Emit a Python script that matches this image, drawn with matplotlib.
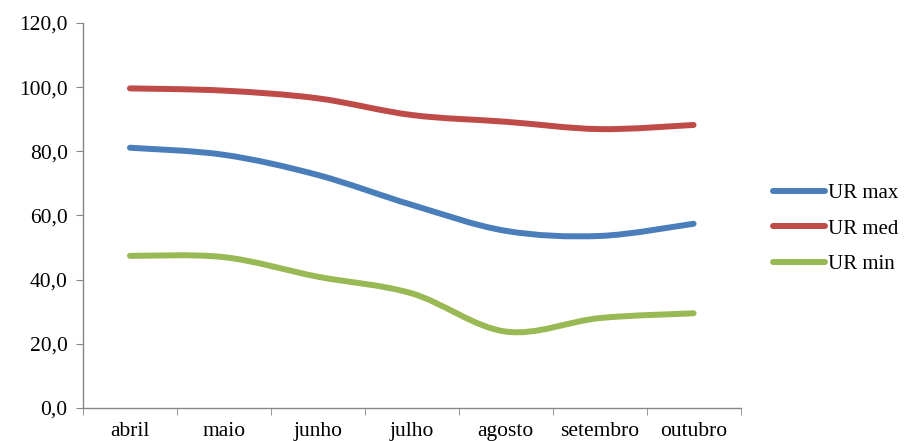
import matplotlib.pyplot as plt
import numpy as np
from matplotlib.lines import Line2D
from matplotlib.patches import PathPatch
from matplotlib.path import Path

meses = ['abril', 'maio', 'junho', 'julho', 'agosto', 'setembro', 'outubro']
ur_max = [81.1, 78.9, 72.6, 63.3, 55.2, 53.6, 57.4]
ur_med = [99.6, 98.9, 96.5, 91.3, 89.2, 86.9, 88.2]
ur_min = [47.4, 47.0, 40.9, 35.7, 23.8, 28.0, 29.5]

series = [
    ('UR max', ur_max, '#4a7ebb'),
    ('UR med', ur_med, '#be4b48'),
    ('UR min', ur_min, '#98b954'),
]

plt.rcParams['font.family'] = ['Liberation Serif', 'DejaVu Serif']


def smooth_path(x, y):
    # linha suavizada (estilo Excel): Bezier cubica entre pontos vizinhos
    pts = np.column_stack([x, y]).astype(float)
    n = len(pts)
    verts = [pts[0]]
    codes = [Path.MOVETO]
    for i in range(n - 1):
        p0 = pts[i - 1] if i > 0 else pts[i]
        p1 = pts[i]
        p2 = pts[i + 1]
        p3 = pts[i + 2] if i + 2 < n else pts[i + 1]
        c1 = p1 + (p2 - p0) / 6
        c2 = p2 - (p3 - p1) / 6
        verts += [c1, c2, p2]
        codes += [Path.CURVE4] * 3
    return Path(verts, codes)


fig = plt.figure(figsize=(9.12, 4.41), dpi=100)
ax = fig.add_axes([0.091, 0.075, 0.721, 0.873])

x = np.arange(len(meses))
handles = []
for nome, vals, cor in series:
    patch = PathPatch(smooth_path(x, vals), facecolor='none', edgecolor=cor,
                      lw=4.3, capstyle='round', joinstyle='round')
    ax.add_patch(patch)
    handles.append(Line2D([], [], color=cor, lw=4.3, solid_capstyle='round', label=nome))

ax.set_xlim(-0.5, len(meses) - 0.5)
ax.set_ylim(0, 120)
ax.set_yticks(np.arange(0, 121, 20))
ax.set_yticklabels([f'{v:.1f}'.replace('.', ',') for v in range(0, 121, 20)])
ax.set_xticks(x)
ax.set_xticklabels(meses)
ax.set_xticks(np.arange(-0.5, len(meses), 1), minor=True)

for s in ['top', 'right']:
    ax.spines[s].set_visible(False)
for s in ['left', 'bottom']:
    ax.spines[s].set_color('#868686')
    ax.spines[s].set_linewidth(1.0)

ax.tick_params(axis='x', which='major', length=0, pad=10, labelsize=15.5)
ax.tick_params(axis='x', which='minor', length=5, color='#868686')
ax.tick_params(axis='y', length=5, color='#868686', pad=6, labelsize=15.5)

fig.legend(handles=handles, loc='center left', bbox_to_anchor=(0.848, 0.481),
           frameon=False, fontsize=15, handlelength=2.5, handletextpad=0.1,
           labelspacing=0.75, borderpad=0, borderaxespad=0)

fig.savefig('out.png', dpi=100)
